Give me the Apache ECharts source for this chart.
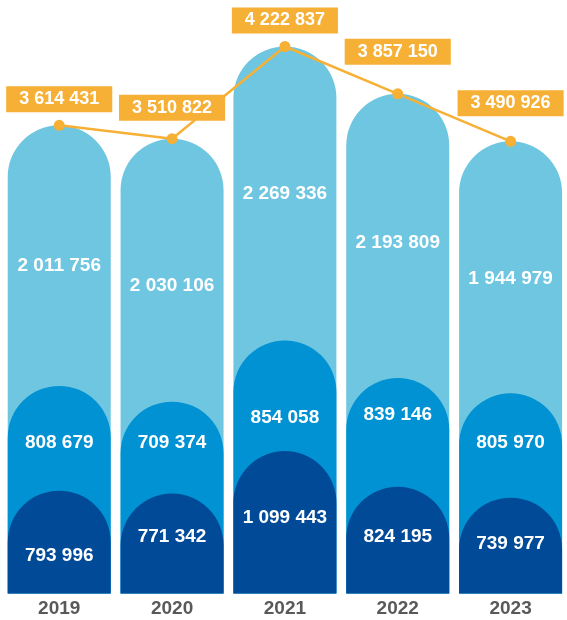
<!DOCTYPE html>
<html>
<head>
<meta charset="utf-8">
<script src="https://cdn.jsdelivr.net/npm/echarts@6/dist/echarts.min.js"></script>
<style>
html,body{margin:0;padding:0;background:#fff;}
#chart{width:567px;height:620px;}
</style>
</head>
<body>
<div id="chart"></div>
<script>
// ---- data ----
const years = ['2019', '2020', '2021', '2022', '2023'];
const darkValues = [793996, 771342, 1099443, 824195, 739977];
const mediumValues = [808679, 709374, 854058, 839146, 805970];
const lightValues = [2011756, 2030106, 2269336, 2193809, 1944979];
const totals = [3614431, 3510822, 4222837, 3857150, 3490926];

// ---- label fine-tuning (pixel shifts, style only) ----
const darkLabelShift = [14, -7, -5, -3, -2];
const mediumLabelShift = [4, -5, 22, -18, -3];
const lightLabelShift = [10, 16, 0, 7, 11];
const totalLabelShift = [-26, -31, -26, -42, -38];

const COLORS = {
  light: '#6FC6E1',
  medium: '#0092D2',
  dark: '#004A98',
  orange: '#F6B035',
  axis: '#595959'
};

const fmt = v => String(v).replace(/\B(?=(\d{3})+(?!\d))/g, ' ');

const cumMedium = darkValues.map((d, i) => d + mediumValues[i]);
const cumLight = cumMedium.map((m, i) => m + lightValues[i]);

const BAR_W = 103;
const R = BAR_W / 2;

const segLabelFont = {
  color: '#fff',
  fontFamily: "'Liberation Sans', Arial, sans-serif",
  fontWeight: 'bold',
  fontSize: 19
};

function labelSeries(name, values, shifts) {
  return {
    name: name,
    type: 'bar',
    stack: 'labels',
    barWidth: BAR_W,
    barGap: '-100%',
    silent: true,
    z: 10,
    itemStyle: { color: 'rgba(0,0,0,0)' },
    data: values.map((v, i) => ({
      value: v,
      label: {
        show: true,
        position: 'inside',
        offset: [0, shifts[i]],
        formatter: () => fmt(v),
        ...segLabelFont
      }
    }))
  };
}

function capBar(name, values, color, z) {
  return {
    name: name,
    type: 'bar',
    barWidth: BAR_W,
    barGap: '-100%',
    z: z,
    silent: true,
    itemStyle: { color: color, borderRadius: [R, R, 0, 0] },
    data: values
  };
}

const chart = echarts.init(document.getElementById('chart'), null, { renderer: 'canvas' });

chart.setOption({
  animation: false,
  backgroundColor: '#ffffff',
  grid: { left: 2.8, width: 572, top: 10.6, bottom: 26.5, containLabel: false },
  xAxis: {
    type: 'category',
    data: years,
    axisLine: { show: false },
    axisTick: { show: false },
    axisLabel: {
      margin: 6,
      color: COLORS.axis,
      fontFamily: "'Liberation Sans', Arial, sans-serif",
      fontWeight: 'bold',
      fontSize: 19
    }
  },
  yAxis: {
    type: 'value',
    min: 0,
    max: 4500000,
    show: false,
    splitLine: { show: false }
  },
  series: [
    capBar('light', cumLight, COLORS.light, 2),
    capBar('medium', cumMedium, COLORS.medium, 3),
    capBar('dark', darkValues, COLORS.dark, 4),
    labelSeries('darkLbl', darkValues, darkLabelShift),
    labelSeries('mediumLbl', mediumValues, mediumLabelShift),
    labelSeries('lightLbl', lightValues, lightLabelShift),
    {
      name: 'total',
      type: 'line',
      z: 20,
      silent: true,
      symbol: 'circle',
      symbolSize: 11,
      lineStyle: { color: COLORS.orange, width: 2.5 },
      itemStyle: { color: COLORS.orange },
      data: totals.map((v, i) => ({
        value: v,
        label: {
          show: true,
          position: 'inside',
          offset: [0, totalLabelShift[i]],
          formatter: () => fmt(v),
          backgroundColor: COLORS.orange,
          color: '#fff',
          fontFamily: "'Liberation Sans', Arial, sans-serif",
          fontWeight: 'bold',
          fontSize: 18,
          lineHeight: 18,
          padding: [4, 13, 4, 13]
        }
      }))
    }
  ]
});
</script>
</body>
</html>
